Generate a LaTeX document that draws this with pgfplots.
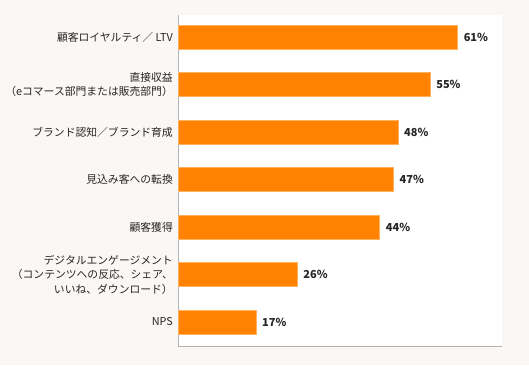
\documentclass[border=0pt]{standalone}
\usepackage{pgfplots}
\pgfplotsset{compat=1.18}
\usepackage{fontspec}
\setmainfont{Noto Sans CJK JP}
\definecolor{bg}{HTML}{FBF7F4}
\definecolor{barc}{HTML}{FF8300}
\definecolor{bare}{HTML}{FFB060}
\definecolor{axc}{HTML}{B4B4B4}
\begin{document}
\begin{tikzpicture}
\fill[bg] (0,0) rectangle (529pt,365pt);
\begin{axis}[
  at={(178pt,19pt)}, anchor=south west,
  scale only axis, width=324pt, height=331pt,
  xbar, bar width=24pt,
  xmin=0, xmax=70.7,
  ymin=-0.463, ymax=6.505, y dir=reverse,
  axis background/.style={fill=white},
  axis x line*=bottom, axis y line*=left,
  axis line style={draw=axc, line width=0.8pt},
  xtick=\empty,
  ytick={0,1,2,3,4,5,6},
  major tick length=0pt,
  /pgf/number format/assume math mode=true,
  yticklabels={
    {顧客ロイヤルティ／ LTV},
    {直接収益\\（eコマース部門または販売部門）},
    {ブランド認知／ブランド育成},
    {見込み客への転換},
    {顧客獲得},
    {デジタルエンゲージメント\\（コンテンツへの反応、シェア、\\いいね、ダウンロード）},
    {NPS}},
  yticklabel style={align=right, font=\fontsize{10.8pt}{14.5pt}\selectfont, inner sep=0pt, xshift=-5pt, text=black!85},
  nodes near coords={\pgfmathprintnumber{\pgfplotspointmeta}\%},
  nodes near coords style={anchor=west, xshift=6pt, inner sep=0pt, font=\fontsize{11pt}{12pt}\selectfont\bfseries, text=black!85},
]
\addplot[fill=barc, draw=bare, line width=0.5pt] coordinates {
  (61,0) (55,1) (48,2) (47,3) (44,4) (26,5) (17,6)
};
\end{axis}
\end{tikzpicture}
\end{document}
